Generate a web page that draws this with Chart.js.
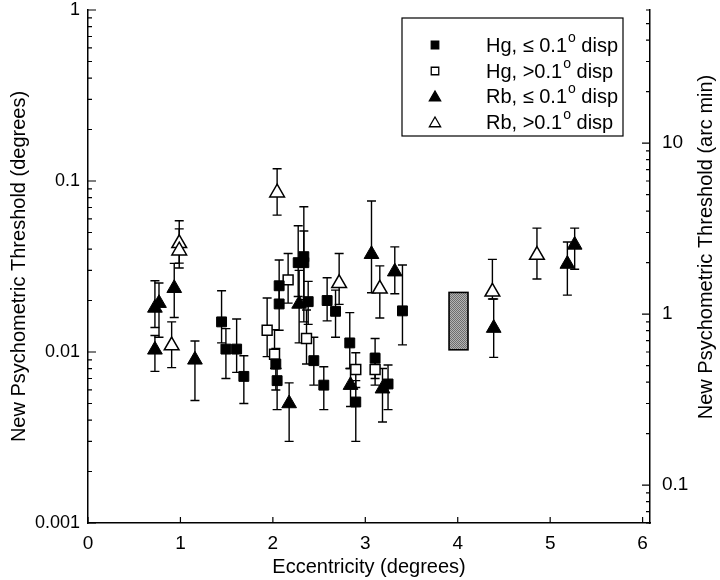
<!DOCTYPE html>
<html><head><meta charset="utf-8">
<script src="https://cdn.jsdelivr.net/npm/chart.js@4.4.1/dist/chart.umd.min.js"></script>
<style>html,body{margin:0;padding:0;background:#fff;}#wrap{width:720px;height:580px;position:relative;}</style>
</head><body><div id="wrap"><canvas id="c" width="720" height="580"></canvas></div>
<script>
// ---------- data ----------
const xTickVals = [0,1,2,3,4,5,6];
const xTickLabels = ['0','1','2','3','4','5','6'];
const yTickVals = [0.001,0.01,0.1,1];
const yTickLabels = ['0.001','0.01','0.1','1'];
const y2TickVals = [0.1,1,10];
const y2TickLabels = ['0.1','1','10'];
const seriesLabels = ['Hg, \u2264 0.1','Hg, >0.1','Rb, \u2264 0.1','Rb, >0.1'];

// Hg, <= 0.1 deg disparity (filled squares)
const hgSmallX  = [1.445,1.492,1.608,1.686,2.032,2.046,2.068,2.068,2.274,2.335,2.335,2.382,2.443,2.551,2.587,2.678,2.832,2.897,3.106,3.246,3.402];
const hgSmallY  = [0.0150,0.0104,0.0104,0.0072,0.0085,0.0068,0.0244,0.0191,0.0333,0.0361,0.0333,0.0197,0.0089,0.0064,0.0200,0.0173,0.0113,0.0051,0.0092,0.0065,0.0174];
const hgSmallHi = [0.0228,0.0137,0.0156,0.0095,0.0105,0.0080,0.0345,0.0250,0.0547,0.0707,0.0510,0.0259,0.0122,0.0082,0.0272,0.0230,0.0170,0.0068,0.0120,0.0084,0.0323];
const hgSmallLo = [0.0113,0.0070,0.0076,0.0050,0.0060,0.0046,0.0185,0.0134,0.0211,0.0202,0.0150,0.0145,0.0064,0.0046,0.0152,0.0122,0.0080,0.0030,0.0070,0.0046,0.0110];

// Hg, > 0.1 deg disparity (open squares)
const hgLargeX  = [1.938,2.018,2.165,2.364,2.897,3.106];
const hgLargeY  = [0.0134,0.0097,0.0264,0.0120,0.0079,0.0079];
const hgLargeHi = [0.0207,0.0135,0.0377,0.0176,0.0099,0.0098];
const hgLargeLo = [0.0094,0.0080,0.0193,0.0085,0.0062,0.0064];

// Rb, <= 0.1 deg disparity (filled triangles)
const rbSmallX  = [0.724,0.768,0.724,0.933,1.157,2.176,2.284,2.840,3.067,3.186,3.319,4.389,5.186,5.265];
const rbSmallY  = [0.0181,0.0193,0.0103,0.0236,0.0090,0.0050,0.0191,0.0064,0.0373,0.0061,0.0295,0.0138,0.0327,0.0423];
const rbSmallHi = [0.0261,0.0253,0.0125,0.0330,0.0116,0.0066,0.0300,0.0080,0.0764,0.0080,0.0412,0.0204,0.0440,0.0530];
const rbSmallLo = [0.0139,0.0122,0.0077,0.0159,0.0052,0.0030,0.0113,0.0048,0.0222,0.0039,0.0219,0.0093,0.0215,0.0305];

// Rb, > 0.1 deg disparity (open triangles)
const rbLargeX  = [0.987,0.987,0.905,2.046,2.717,3.157,4.375,4.857];
const rbLargeY  = [0.0432,0.0391,0.0109,0.0855,0.0252,0.0234,0.0225,0.0369];
const rbLargeHi = [0.0586,0.0525,0.0150,0.1180,0.0377,0.0319,0.0348,0.0530];
const rbLargeLo = [0.0331,0.0310,0.0081,0.0632,0.0190,0.0158,0.0204,0.0267];

// shaded reference range
const rangeX = [3.906,4.111];
const rangeY = [0.0103,0.0223];

const yMin = 0.001, yMax = 1;
const ARCMIN_PER_DEG = 60;
// ---------- end data ----------

const FONT = "'Liberation Sans', Arial, Helvetica, sans-serif";
const pts = (xs, ys) => xs.map((x,i)=>({x:x, y:ys[i]}));

const errorBars = {
  id:'errorBars',
  beforeDatasetsDraw(chart){
    const {ctx, scales:{x,y}} = chart;
    ctx.save();
    ctx.strokeStyle='#000'; ctx.lineWidth=1.4;
    chart.data.datasets.forEach(ds=>{
      if(!ds.errHi) return;
      ds.data.forEach((p,i)=>{
        const px = x.getPixelForValue(p.x);
        const ph = y.getPixelForValue(ds.errHi[i]);
        const pl = y.getPixelForValue(ds.errLo[i]);
        ctx.beginPath();
        ctx.moveTo(px,ph); ctx.lineTo(px,pl);
        ctx.moveTo(px-4.5,ph); ctx.lineTo(px+4.5,ph);
        ctx.moveTo(px-4.5,pl); ctx.lineTo(px+4.5,pl);
        ctx.stroke();
      });
    });
    // shaded range box
    const x0=x.getPixelForValue(rangeX[0]), x1=x.getPixelForValue(rangeX[1]);
    const y0=y.getPixelForValue(rangeY[1]), y1=y.getPixelForValue(rangeY[0]);
    const pc=document.createElement('canvas'); pc.width=2; pc.height=2;
    const pctx=pc.getContext('2d');
    pctx.fillStyle='#b4b4b4'; pctx.fillRect(0,0,2,2);
    pctx.fillStyle='#6e6e6e'; pctx.fillRect(0,0,1,1); pctx.fillRect(1,1,1,1);
    ctx.fillStyle=ctx.createPattern(pc,'repeat');
    ctx.fillRect(x0,y0,x1-x0,y1-y0);
    ctx.lineWidth=1.6; ctx.strokeRect(x0,y0,x1-x0,y1-y0);
    ctx.restore();
  }
};

const axisDecor = {
  id:'axisDecor',
  afterDraw(chart){
    const {ctx, chartArea:a, scales:{x,y,y2}} = chart;
    ctx.save();
    ctx.strokeStyle='#000'; ctx.lineWidth=1.2;
    ctx.beginPath();
    for(let e=-3;e<=0;e++){
      for(let m=1;m<=9;m++){
        const v=m*Math.pow(10,e);
        if(v>yMax*1.0001) break;
        const py=y.getPixelForValue(v);
        const len=(m===1)?8:4;
        ctx.moveTo(a.left,py); ctx.lineTo(a.left+len,py);
      }
    }
    const lo=yMin*ARCMIN_PER_DEG, hi=yMax*ARCMIN_PER_DEG;
    for(let e=-2;e<=1;e++){
      for(let m=1;m<=9;m++){
        const v=m*Math.pow(10,e);
        if(v<lo*0.9999||v>hi*1.0001) continue;
        const py=y2.getPixelForValue(v);
        const len=(m===1)?8:4;
        ctx.moveTo(a.right,py); ctx.lineTo(a.right-len,py);
      }
    }
    xTickVals.forEach(v=>{
      const px=x.getPixelForValue(v);
      ctx.moveTo(px,a.bottom); ctx.lineTo(px,a.bottom-6);
    });
    ctx.stroke();

    // right axis title (reads bottom-to-top)
    ctx.fillStyle='#000';
    ctx.font='20px '+FONT;
    ctx.textAlign='center'; ctx.textBaseline='middle';
    ctx.translate(706,247);
    ctx.rotate(-Math.PI/2);
    ctx.fillText('New Psychometric Threshold (arc min)',0,0);
    ctx.restore();

    // legend
    ctx.save();
    const bx=402, by=18, bw=221, bh=118;
    ctx.fillStyle='#fff'; ctx.fillRect(bx,by,bw,bh);
    ctx.strokeStyle='#000'; ctx.lineWidth=1.2; ctx.strokeRect(bx,by,bw,bh);
    const styles=[['rect',true],['rect',false],['triangle',true],['triangle',false]];
    const rows=[45,71,96,122];
    ctx.textBaseline='middle'; ctx.textAlign='left';
    seriesLabels.forEach((lab,i)=>{
      const [st,filled]=styles[i];
      ctx.fillStyle=filled?'#000':'#fff';
      ctx.strokeStyle='#000'; ctx.lineWidth=1.3;
      Chart.helpers.drawPoint(ctx,{pointStyle:st,radius:st==='rect'?5.3:6.5,rotation:0,borderWidth:1.3},435,rows[i]+(st==='triangle'?1.5:0));
      ctx.fillStyle='#000';
      ctx.font='20px '+FONT;
      let tx=486;
      ctx.fillText(lab,tx,rows[i]+1);
      tx+=ctx.measureText(lab).width+1;
      ctx.font='14px '+FONT;
      ctx.fillText('o',tx,rows[i]-7);
      tx+=ctx.measureText('o').width;
      ctx.font='20px '+FONT;
      ctx.fillText(' disp',tx,rows[i]+1);
    });
    ctx.restore();
  }
};

const fixVertical = (w) => (s) => { s.width = w; s.paddingTop = 10; s.paddingBottom = 0; };

new Chart(document.getElementById('c'),{
  type:'scatter',
  data:{datasets:[
    {label:seriesLabels[0],data:pts(hgSmallX,hgSmallY),errHi:hgSmallHi,errLo:hgSmallLo,pointStyle:'rect',pointRadius:7,backgroundColor:'#000',borderColor:'#000',borderWidth:1},
    {label:seriesLabels[1],data:pts(hgLargeX,hgLargeY),errHi:hgLargeHi,errLo:hgLargeLo,pointStyle:'rect',pointRadius:7,backgroundColor:'#fff',borderColor:'#000',borderWidth:1.5},
    {label:seriesLabels[2],data:pts(rbSmallX,rbSmallY),errHi:rbSmallHi,errLo:rbSmallLo,pointStyle:'triangle',pointRadius:8.5,backgroundColor:'#000',borderColor:'#000',borderWidth:1},
    {label:seriesLabels[3],data:pts(rbLargeX,rbLargeY),errHi:rbLargeHi,errLo:rbLargeLo,pointStyle:'triangle',pointRadius:8.5,backgroundColor:'#fff',borderColor:'#000',borderWidth:1.5}
  ]},
  options:{
    responsive:false, animation:false, devicePixelRatio:1,
    layout:{padding:{top:0,left:0,right:0,bottom:0}},
    plugins:{legend:{display:false},tooltip:{enabled:false}},
    elements:{point:{hoverRadius:7}},
    scales:{
      x:{type:'linear',position:'bottom',min:0,max:6.08,
        afterBuildTicks:s=>{s.ticks=xTickVals.map(v=>({value:v}));},
        afterFit:s=>{s.height=57; s.paddingLeft=0; s.paddingRight=0;},
        ticks:{autoSkip:false,maxRotation:0,padding:11,color:'#000',font:{family:FONT,size:19,lineHeight:'20px'},
          callback:(v)=>xTickLabels[xTickVals.indexOf(v)]},
        grid:{display:false,drawTicks:false},
        border:{display:true,color:'#000',width:1.5},
        title:{display:true,text:'Eccentricity (degrees)',color:'#000',font:{family:FONT,size:20},padding:{top:0,bottom:1}}
      },
      y:{type:'logarithmic',position:'left',min:yMin,max:yMax,
        afterBuildTicks:s=>{s.ticks=yTickVals.map(v=>({value:v}));},
        afterFit:fixVertical(88),
        ticks:{autoSkip:false,padding:8,color:'#000',font:{family:FONT,size:18,lineHeight:'20px'},
          callback:(v)=>{const i=yTickVals.findIndex(t=>Math.abs(t-v)/t<1e-6);return i>=0?yTickLabels[i]:'';}},
        grid:{display:false,drawTicks:false},
        border:{display:true,color:'#000',width:1.5},
        title:{display:true,text:'New Psychometric Threshold (degrees)',color:'#000',font:{family:FONT,size:20},padding:{top:7,bottom:0}}
      },
      y2:{type:'logarithmic',position:'right',min:yMin*ARCMIN_PER_DEG,max:yMax*ARCMIN_PER_DEG,
        afterBuildTicks:s=>{s.ticks=y2TickVals.map(v=>({value:v}));},
        afterFit:fixVertical(70),
        ticks:{autoSkip:false,padding:12,color:'#000',font:{family:FONT,size:19,lineHeight:'20px'},
          callback:(v)=>{const i=y2TickVals.findIndex(t=>Math.abs(t-v)/t<1e-6);return i>=0?y2TickLabels[i]:'';}},
        grid:{display:false,drawTicks:false},
        border:{display:true,color:'#000',width:1.5}
      }
    }
  },
  plugins:[errorBars,axisDecor]
});
</script>
</body></html>
